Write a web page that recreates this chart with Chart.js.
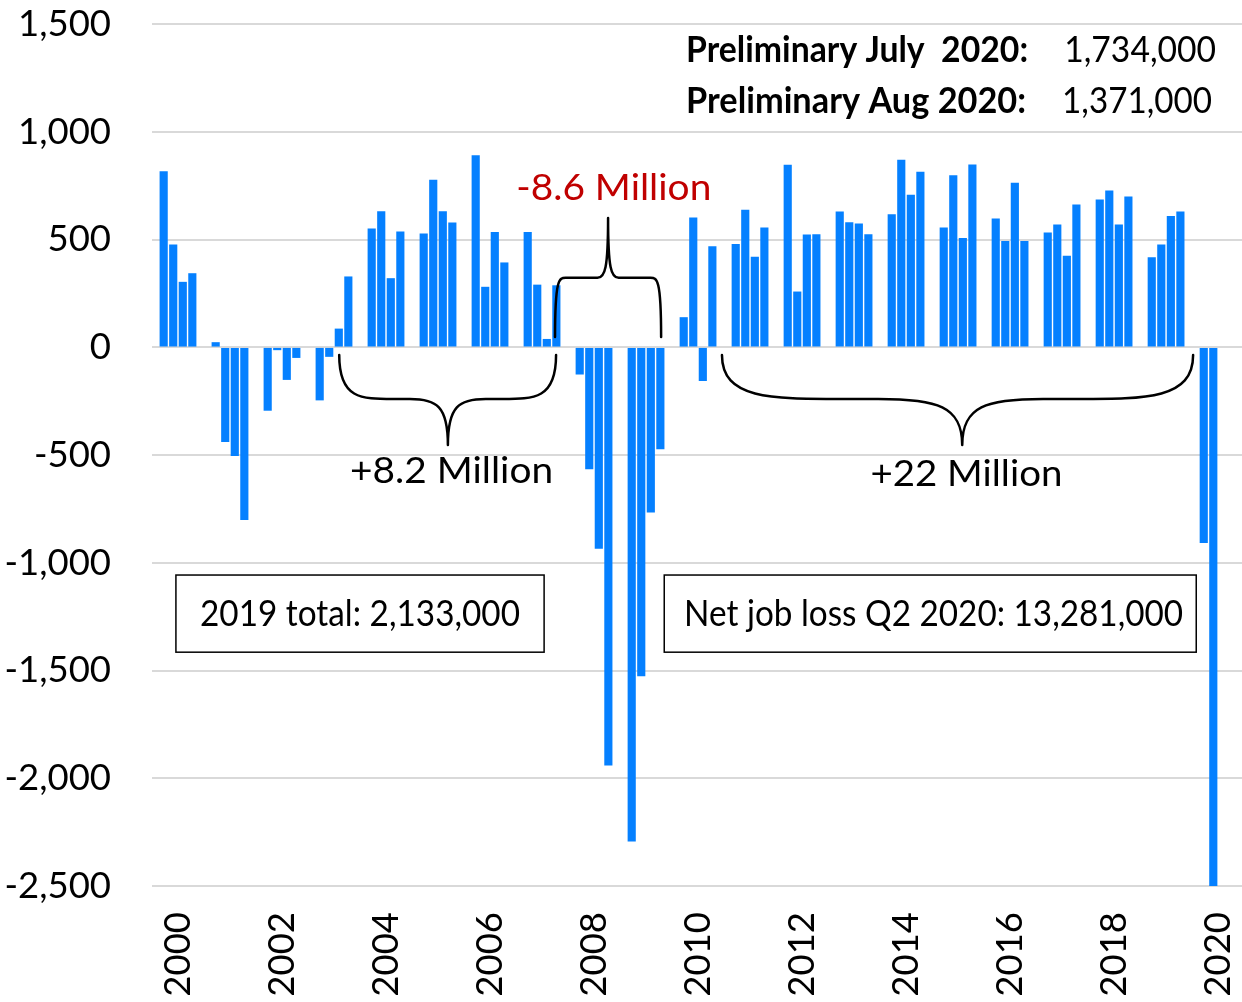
<!DOCTYPE html>
<html><head><meta charset="utf-8">
<script src="https://cdn.jsdelivr.net/npm/chart.js@4"></script>
<style>html,body{margin:0;padding:0;background:#fff;}canvas{display:block}</style>
</head><body>
<canvas id="c" width="1242" height="1002"></canvas>
<script>
// ---------------- DATA ----------------
const years = [2000,2001,2002,2003,2004,2005,2006,2007,2008,2009,2010,2011,2012,2013,2014,2015,2016,2017,2018,2019,2020];
// quarterly net change in payroll jobs (thousands), Q1..Q4 of each year
const jobChange = [
  815, 475, 302, 342,
  22, -438, -503, -800,
  -293, -12, -150, -48,
  -245, -43, 85, 327,
  550, 630, 319, 536,
  526, 776, 630, 577,
  889, 279, 533, 392,
  533, 289, 37, 286,
  -125, -565, -934, -1939,
  -2292, -1525, -765, -472,
  138, 601, -155, 467,
  478, 636, 418, 554,
  845, 257, 522, 523,
  628, 579, 573, 523,
  616, 868, 706, 813,
  554, 797, 506, 847,
  596, 491, 762, 491,
  531, 568, 423, 661,
  684, 726, 568, 698,
  416, 475, 607, 628,
  -907, -13281
];
const xTickYears = [2000,2002,2004,2006,2008,2010,2012,2014,2016,2018,2020];
const yTicks = [-2500,-2000,-1500,-1000,-500,0,500,1000,1500];

const prelimLabels = ['Preliminary July  2020:', 'Preliminary Aug 2020:'];
const prelimValues = ['1,734,000', '1,371,000'];
const boxTexts = ['2019 total: 2,133,000', 'Net job loss Q2 2020: 13,281,000'];
const braceTexts = ['+8.2 Million', '-8.6 Million', '+22 Million'];

// ---------------- CHART ----------------
const FONT = 'Lato, "Open Sans", sans-serif';
const QUARTER_STEP = 0.1837; // fraction of a year between adjacent quarter bars
const points = jobChange.map((v, i) => ({
  x: years[Math.floor(i / 4)] + ((i % 4) - 1.5) * QUARTER_STEP,
  y: v
}));

function txt(ctx, str, px, py, size, weight, color, width, align) {
  ctx.save();
  ctx.font = `${weight} ${size}px ${FONT}`;
  ctx.fillStyle = color;
  ctx.textBaseline = 'alphabetic';
  ctx.textAlign = 'left';
  const w = ctx.measureText(str).width;
  const sx = width ? width / w : 1;
  const left = align === 'center' ? px - w * sx / 2 : (align === 'right' ? px - w * sx : px);
  ctx.translate(left, py);
  ctx.scale(sx, 1);
  ctx.fillText(str, 0, 0);
  ctx.restore();
}

function brace(ctx, X1, X2, XT, YE, YF, YT, endFrac, tipFrac) {
  const hL = XT - X1, hR = X2 - XT;
  ctx.beginPath();
  ctx.moveTo(X1, YE);
  ctx.bezierCurveTo(X1, YF, X1 + hL * endFrac * 0.4, YF, X1 + hL * endFrac, YF);
  ctx.lineTo(XT - hL * tipFrac, YF);
  ctx.bezierCurveTo(XT - hL * tipFrac * 0.3, YF, XT, YF + (YT - YF) * 0.15, XT, YT);
  ctx.bezierCurveTo(XT, YF + (YT - YF) * 0.15, XT + hR * tipFrac * 0.3, YF, XT + hR * tipFrac, YF);
  ctx.lineTo(X2 - hR * endFrac, YF);
  ctx.bezierCurveTo(X2 - hR * endFrac * 0.4, YF, X2, YF, X2, YE);
  ctx.stroke();
}

const annotations = {
  id: 'annotations',
  afterDraw(chart) {
    const ctx = chart.ctx;
    const xs = chart.scales.x, ys = chart.scales.y;
    const X = v => xs.getPixelForValue(v);
    const Y = v => ys.getPixelForValue(v);

    // preliminary monthly figures
    txt(ctx, prelimLabels[0], X(2009.77), Y(1325), 36, 'bold', '#000', 342, 'left');
    txt(ctx, prelimValues[0], X(2017.04), Y(1325), 36, 'normal', '#000', 152, 'left');
    txt(ctx, prelimLabels[1], X(2009.77), Y(1088), 36, 'bold', '#000', 340, 'left');
    txt(ctx, prelimValues[1], X(2017.0), Y(1088), 36, 'normal', '#000', 150, 'left');

    // braces
    ctx.save();
    ctx.strokeStyle = '#000';
    ctx.lineWidth = 2.5;
    ctx.lineCap = 'round';
    ctx.lineJoin = 'round';
    brace(ctx, X(2003.10), X(2007.27), X(2005.19), Y(-36), Y(-240), Y(-454), 0.5, 0.35);
    brace(ctx, X(2007.25), X(2009.29), X(2008.27), Y(48), Y(322), Y(600), 0.2, 0.2);
    brace(ctx, X(2010.46), X(2019.52), X(2015.08), Y(-36), Y(-240), Y(-454), 0.5, 0.35);
    ctx.restore();

    txt(ctx, braceTexts[0], X(2005.26), Y(-630), 36, 'normal', '#000', 203, 'center');
    txt(ctx, braceTexts[1], X(2008.38), Y(684), 36, 'normal', '#c00000', 195, 'center');
    txt(ctx, braceTexts[2], X(2015.16), Y(-644), 36, 'normal', '#000', 192, 'center');

    // boxes
    ctx.save();
    ctx.strokeStyle = '#000';
    ctx.lineWidth = 1.5;
    const b1x = X(1999.96), b1w = X(2007.04) - b1x, by = Y(-1057), bh = Y(-1415) - by;
    const b2x = X(2009.35), b2w = X(2019.58) - b2x;
    ctx.strokeRect(b1x, by, b1w, bh);
    ctx.strokeRect(b2x, by, b2w, bh);
    ctx.restore();
    txt(ctx, boxTexts[0], X(2003.50), Y(-1294), 36, 'normal', '#000', 320, 'center');
    txt(ctx, boxTexts[1], X(2014.53), Y(-1294), 36, 'normal', '#000', 499, 'center');
  }
};

new Chart(document.getElementById('c'), {
  type: 'bar',
  data: {
    datasets: [{
      data: points,
      backgroundColor: '#0580ff',
      borderWidth: 0,
      barThickness: 7.5
    }]
  },
  options: {
    responsive: false,
    animation: false,
    devicePixelRatio: 1,
    layout: { padding: { top: 24, left: 0, right: 0, bottom: 0 } },
    plugins: { legend: { display: false }, tooltip: { enabled: false } },
    scales: {
      x: {
        type: 'linear',
        offset: false,
        min: 1999.5,
        max: 2020.46,
        grid: { display: false, offset: false },
        border: { display: false },
        afterBuildTicks: s => { s.ticks = xTickYears.map(v => ({ value: v })); },
        afterFit: s => { s.height = 116; s.paddingLeft = 0; s.paddingRight = 0; s.paddingTop = 0; s.paddingBottom = 0; },
        ticks: {
          autoSkip: false,
          minRotation: 90,
          maxRotation: 90,
          padding: 18,
          color: '#000',
          font: { family: FONT, size: 36.5 },
          callback: v => String(v)
        }
      },
      y: {
        min: -2500,
        max: 1500,
        afterBuildTicks: s => { s.ticks = yTicks.map(v => ({ value: v })); },
        afterFit: s => { s.width = 152; s.paddingLeft = 0; s.paddingRight = 0; s.paddingTop = 0; s.paddingBottom = 0; },
        grid: { color: '#d9d9d9', lineWidth: 2, drawTicks: false },
        border: { display: false },
        ticks: {
          padding: 41,
          color: '#000',
          font: { family: FONT, size: 36.5 },
          callback: v => v.toLocaleString('en-US')
        }
      }
    }
  },
  plugins: [annotations]
});
</script>
</body></html>
